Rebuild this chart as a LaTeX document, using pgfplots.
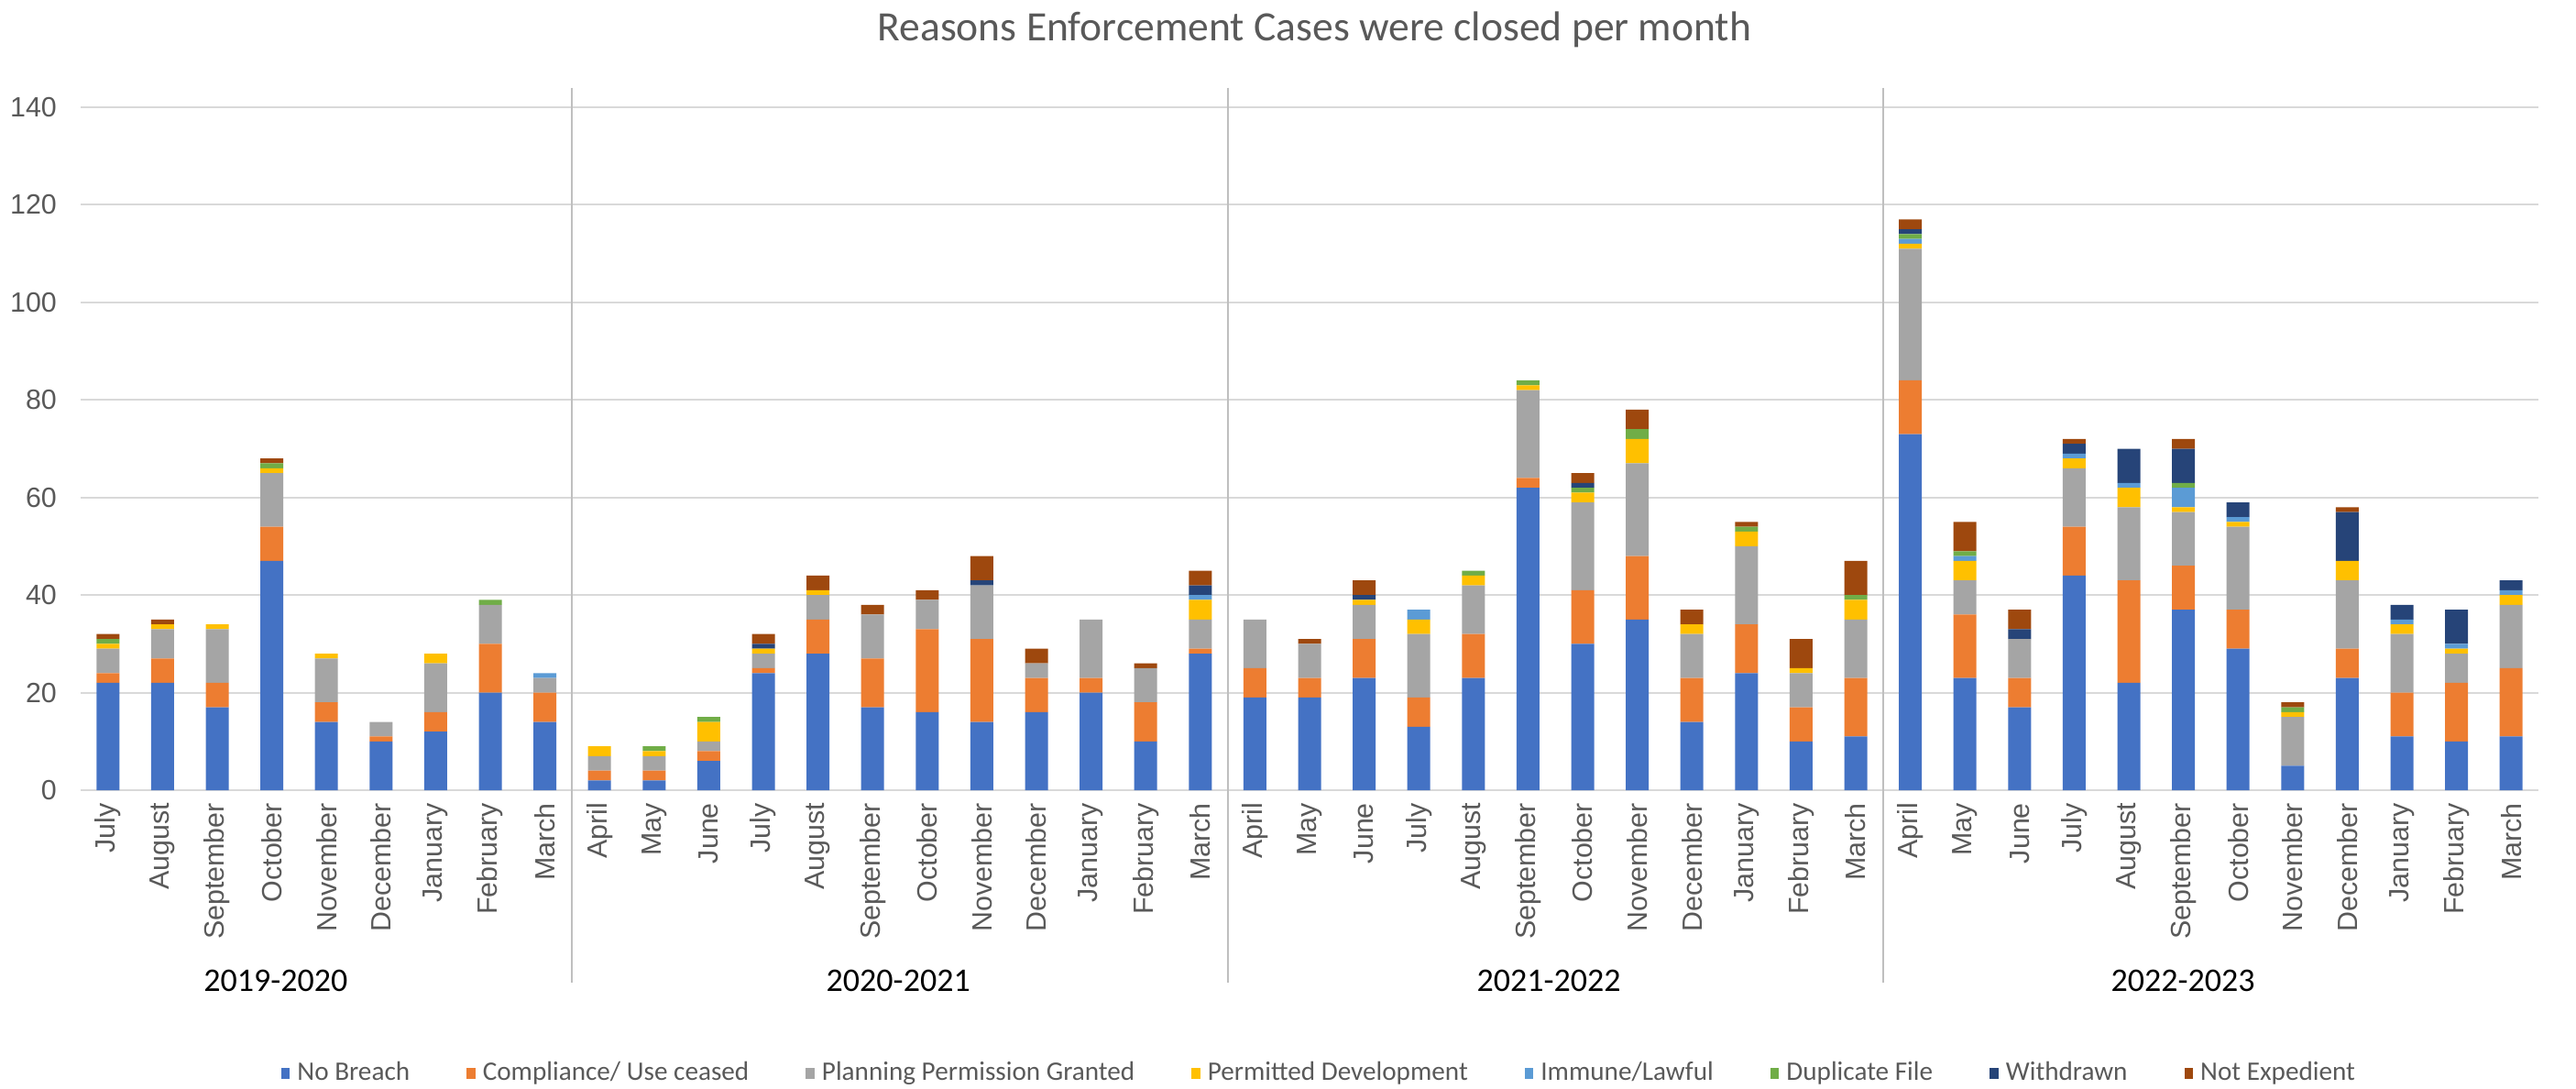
\documentclass[border=0pt]{standalone}
\usepackage{fontspec}
\setmainfont{Carlito}
\newfontfamily\lib{Liberation Sans}
\usepackage{pgfplots}
\usepackage{pgfplotstable}
\pgfplotsset{compat=1.18}
\definecolor{cNB}{HTML}{4472C4}
\definecolor{cC}{HTML}{ED7D31}
\definecolor{cPP}{HTML}{A5A5A5}
\definecolor{cPD}{HTML}{FFC000}
\definecolor{cIL}{HTML}{5B9BD5}
\definecolor{cDF}{HTML}{70AD47}
\definecolor{cW}{HTML}{264478}
\definecolor{cNE}{HTML}{9E480E}
\definecolor{txt}{HTML}{595959}
\definecolor{gridc}{HTML}{D9D9D9}
\definecolor{sepc}{HTML}{BFBFBF}

\pgfplotstableread{
x nb c pp pd il df w ne
0 22 2 5 1 0 1 0 1
1 22 5 6 1 0 0 0 1
2 17 5 11 1 0 0 0 0
3 47 7 11 1 0 1 0 1
4 14 4 9 1 0 0 0 0
5 10 1 3 0 0 0 0 0
6 12 4 10 2 0 0 0 0
7 20 10 8 0 0 1 0 0
8 14 6 3 0 1 0 0 0
9 2 2 3 2 0 0 0 0
10 2 2 3 1 0 1 0 0
11 6 2 2 4 0 1 0 0
12 24 1 3 1 0 0 1 2
13 28 7 5 1 0 0 0 3
14 17 10 9 0 0 0 0 2
15 16 17 6 0 0 0 0 2
16 14 17 11 0 0 0 1 5
17 16 7 3 0 0 0 0 3
18 20 3 12 0 0 0 0 0
19 10 8 7 0 0 0 0 1
20 28 1 6 4 1 0 2 3
21 19 6 10 0 0 0 0 0
22 19 4 7 0 0 0 0 1
23 23 8 7 1 0 0 1 3
24 13 6 13 3 2 0 0 0
25 23 9 10 2 0 1 0 0
26 62 2 18 1 0 1 0 0
27 30 11 18 2 0 1 1 2
28 35 13 19 5 0 2 0 4
29 14 9 9 2 0 0 0 3
30 24 10 16 3 0 1 0 1
31 10 7 7 1 0 0 0 6
32 11 12 12 4 0 1 0 7
33 73 11 27 1 1 1 1 2
34 23 13 7 4 1 1 0 6
35 17 6 8 0 0 0 2 4
36 44 10 12 2 1 0 2 1
37 22 21 15 4 1 0 7 0
38 37 9 11 1 4 1 7 2
39 29 8 17 1 1 0 3 0
40 5 0 10 1 0 1 0 1
41 23 6 14 4 0 0 10 1
42 11 9 12 2 1 0 3 0
43 10 12 6 1 1 0 7 0
44 11 14 13 2 1 0 2 0
}\data

\begin{document}
\begin{tikzpicture}
\useasboundingbox (-22pt,-81.25pt) rectangle (680.75pt,215.5pt);
\begin{axis}[
  scale only axis,
  width=670.5pt, height=186.25pt,
  xmin=-0.5, xmax=44.5, ymin=0, ymax=140,
  ybar stacked, bar width=6.25pt,
  ytick={0,20,...,140},
  xtick={0,...,44},
  xticklabels={July,August,September,October,November,December,January,February,March,
    April,May,June,July,August,September,October,November,December,January,February,March,
    April,May,June,July,August,September,October,November,December,January,February,March,
    April,May,June,July,August,September,October,November,December,January,February,March},
  axis line style={draw=none},
  major tick length=0pt,
  ymajorgrids,
  grid style={color=gridc, line width=0.5pt},
  /pgf/number format/assume math mode=true,
  tick label style={font=\lib\fontsize{7.6}{8}\selectfont, text=txt},
  xticklabel style={rotate=90, anchor=east},
  yticklabel style={xshift=-3pt},
  clip=false,
  legend columns=8,
  legend cell align=left,
  legend style={at={(0.505,-0.415)}, anchor=center, draw=none, fill=none,
    font=\fontsize{7.3}{8}\selectfont, text=txt,
    /tikz/every even column/.append style={column sep=13.5pt}},
  legend image code/.code={\fill[#1] (0pt,-1.4pt) rectangle (2.4pt,1.6pt);},
  every axis plot/.append style={draw=none},
]
\addplot[fill=cNB] table[x=x,y=nb]{\data};
\addplot[fill=cC] table[x=x,y=c]{\data};
\addplot[fill=cPP] table[x=x,y=pp]{\data};
\addplot[fill=cPD] table[x=x,y=pd]{\data};
\addplot[fill=cIL] table[x=x,y=il]{\data};
\addplot[fill=cDF] table[x=x,y=df]{\data};
\addplot[fill=cW] table[x=x,y=w]{\data};
\addplot[fill=cNE] table[x=x,y=ne]{\data};
\legend{No Breach, Compliance/ Use ceased, Planning Permission Granted, Permitted Development, Immune/Lawful, Duplicate File, Withdrawn, Not Expedient}
\draw[sepc, line width=0.5pt] (axis cs:8.5,144) -- (axis cs:8.5,-39.5);
\draw[sepc, line width=0.5pt] (axis cs:20.5,144) -- (axis cs:20.5,-39.5);
\draw[sepc, line width=0.5pt] (axis cs:32.5,144) -- (axis cs:32.5,-39.5);
\node[font=\fontsize{9}{10}\selectfont] at (axis cs:3.07,-39.1) {2019-2020};
\node[font=\fontsize{9}{10}\selectfont] at (axis cs:14.47,-39.1) {2020-2021};
\node[font=\fontsize{9}{10}\selectfont] at (axis cs:26.38,-39.1) {2021-2022};
\node[font=\fontsize{9}{10}\selectfont] at (axis cs:37.99,-39.1) {2022-2023};
\node[font=\fontsize{11.4}{13}\selectfont, text=txt] at (rel axis cs:0.502,1.114) {Reasons Enforcement Cases were closed per month};
\end{axis}
\end{tikzpicture}
\end{document}
